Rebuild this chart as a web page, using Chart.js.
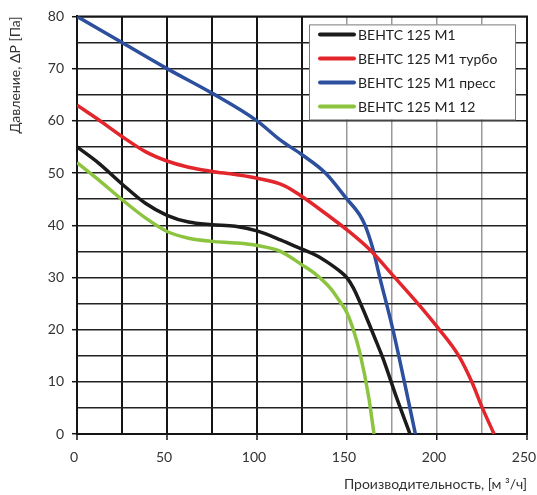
<!DOCTYPE html>
<html>
<head>
<meta charset="utf-8">
<script src="https://cdn.jsdelivr.net/npm/chart.js@4.4.1/dist/chart.umd.min.js"></script>
<style>
  html, body { margin: 0; padding: 0; background: #fff; overflow: hidden; }
  #wrap { width: 537px; height: 495px; overflow: hidden; }
  #wrap canvas { display: block; }
</style>
</head>
<body>
<div id="wrap"><canvas id="chart-fan"></canvas></div>
<script>
(function () {
    "use strict";

    // Series: [flow m3/h, pressure Pa]
    var SERIES_LABELS = ["ВЕНТС 125 М1", "ВЕНТС 125 М1 турбо", "ВЕНТС 125 М1 пресс", "ВЕНТС 125 М1 12"];
    var SERIES_COLORS = ["#1b1b1b", "#e2262b", "#2c4f9e", "#8cc43f"];

    var baseFlow = [0, 12, 25, 38, 50, 62, 75, 88, 100, 113, 125, 133, 140.5, 146, 150, 153.5, 159, 166.5, 170, 177.5, 185];
    var basePressure = [55, 51.9, 47.9, 44.2, 41.9, 40.6, 40.1, 39.8, 38.9, 37.2, 35.4, 34.2, 32.6, 31.2, 29.9, 28, 23.8, 17.5, 14.5, 7, 0];

    var turboFlow = [0, 12, 25, 38, 50, 62, 75, 88, 100, 115, 125, 139, 150, 163, 176, 190.6, 201.3, 212, 219.3, 225.2, 231.7];
    var turboPressure = [63, 60.2, 57, 54.1, 52.3, 51.1, 50.3, 49.7, 49, 47.6, 45.5, 42, 39.1, 35.2, 30.2, 24.5, 20, 15, 10, 5, 0];

    var pressFlow = [0, 25, 50, 75, 100, 113, 125, 138, 150, 157, 160, 164.6, 168, 175.5, 182, 188];
    var pressPressure = [80, 75, 70, 65.3, 60, 56.3, 53.5, 50, 45, 42, 40, 35.2, 30.3, 20, 9.8, 0];

    var m12Flow = [0, 12, 25, 38, 50, 62, 75, 88, 100, 113, 125, 133, 140.6, 146, 150, 153.5, 157.2, 162, 165];
    var m12Pressure = [52, 48.7, 44.9, 41.4, 38.8, 37.5, 36.9, 36.6, 36.1, 35, 32.4, 30.5, 28, 25.4, 23.2, 20, 15.5, 7.2, 0];

    var xTicks = [0, 50, 100, 150, 200, 250];
    var yTicks = [0, 10, 20, 30, 40, 50, 60, 70, 80];

    var FONT = "Lato, 'Open Sans', sans-serif";

    function toPoints(xs, ys) {
        return xs.map(function (x, i) { return { x: x, y: ys[i] }; });
    }

    function makeDataset(i, xs, ys) {
        return {
            label: SERIES_LABELS[i],
            data: toPoints(xs, ys),
            borderColor: SERIES_COLORS[i],
            backgroundColor: SERIES_COLORS[i],
            borderWidth: 3.5,
            pointRadius: 0,
            showLine: true,
            cubicInterpolationMode: "monotone",
            fill: false,
        };
    }

    // right and top edges of the plot frame
    var plotFrame = {
        id: "plotFrame",
        beforeDatasetsDraw: function (chart) {
            var ctx = chart.ctx;
            var a = chart.chartArea;
            ctx.save();
            ctx.strokeStyle = "#151515";
            ctx.lineWidth = 2;
            ctx.beginPath();
            ctx.moveTo(a.left, a.top);
            ctx.lineTo(a.right, a.top);
            ctx.lineTo(a.right, a.bottom);
            ctx.stroke();
            ctx.restore();
        },
    };

    var insideLegend = {
        id: "insideLegend",
        afterDatasetsDraw: function (chart) {
            var ctx = chart.ctx;
            var area = chart.chartArea;
            var left = area.left + 232, top = area.top + 8;
            var w = 206, h = 95;
            ctx.save();
            ctx.fillStyle = "#fff";
            ctx.fillRect(left, top, w, h);
            ctx.strokeStyle = "#7a7a7a";
            ctx.lineWidth = 1;
            ctx.strokeRect(left + 0.5, top + 0.5, w, h);
            ctx.font = "14px " + FONT;
            ctx.textBaseline = "middle";
            ctx.fillStyle = "#222";
            chart.data.datasets.forEach(function (ds, i) {
                var y = top + 10 + i * 24;
                ctx.strokeStyle = ds.borderColor;
                ctx.lineWidth = 4;
                ctx.lineCap = "round";
                ctx.beginPath();
                ctx.moveTo(left + 11, y);
                ctx.lineTo(left + 45, y);
                ctx.stroke();
                ctx.fillText(ds.label, left + 49, y + 1);
            });
            ctx.restore();
        },
    };

    function initChart() {
        var canvas = document.getElementById("chart-fan");
        if (!canvas || typeof Chart === "undefined") {
            return;
        }
        new Chart(canvas, {
            type: "scatter",
            data: {
                datasets: [
                    makeDataset(0, baseFlow, basePressure),
                    makeDataset(1, turboFlow, turboPressure),
                    makeDataset(2, pressFlow, pressPressure),
                    makeDataset(3, m12Flow, m12Pressure),
                ],
            },
            options: {
                responsive: true,
                maintainAspectRatio: false,
                animation: false,
                layout: { padding: { top: 16, right: 0, left: 7, bottom: 2 } },
                plugins: {
                    legend: { display: false },
                    tooltip: { enabled: false },
                },
                scales: {
                    x: {
                        type: "linear",
                        min: 0,
                        max: 250,
                        afterFit: function (scale) {
                            scale.height = 59;
                            scale.paddingRight = 10;
                        },
                        ticks: {
                            stepSize: 25,
                            padding: 9,
                            labelOffset: -3,
                            color: "#333",
                            font: { family: FONT, size: 14 },
                            callback: function (v) { return xTicks.indexOf(v) >= 0 ? String(v) : ""; },
                        },
                        grid: {
                            tickLength: 6,
                            color: function (c) {
                                var v = c.tick ? c.tick.value : 0;
                                return v > 125 && v < 250 ? "#9a9a9a" : "#151515";
                            },
                            lineWidth: function (c) {
                                var v = c.tick ? c.tick.value : 0;
                                return v > 125 && v < 250 ? 1.5 : 2;
                            },
                            tickColor: function (c) {
                                var v = c.tick ? c.tick.value : 0;
                                return xTicks.indexOf(v) >= 0 ? "#151515" : "rgba(0,0,0,0)";
                            },
                            tickWidth: 1.5,
                        },
                        border: { color: "#151515", width: 2 },
                        title: {
                            display: true,
                            text: "Производительность, [м ³/ч]",
                            align: "end",
                            color: "#333",
                            font: { family: FONT, size: 14 },
                            padding: { top: 4, bottom: 0 },
                        },
                    },
                    y: {
                        type: "linear",
                        min: 0,
                        max: 80,
                        afterFit: function (scale) { scale.width = 70; },
                        ticks: {
                            stepSize: 5,
                            padding: 8,
                            color: "#333",
                            font: { family: FONT, size: 14 },
                            callback: function (v) { return yTicks.indexOf(v) >= 0 ? String(v) : ""; },
                        },
                        grid: {
                            tickLength: 5,
                            color: "#222",
                            lineWidth: 1.4,
                            tickColor: function (c) {
                                var v = c.tick ? c.tick.value : 0;
                                return yTicks.indexOf(v) >= 0 ? "#151515" : "rgba(0,0,0,0)";
                            },
                            tickWidth: 1.5,
                        },
                        border: { color: "#151515", width: 2 },
                        title: {
                            display: true,
                            text: "Давление, ΔP [Па]",
                            align: "end",
                            color: "#333",
                            font: { family: FONT, size: 14 },
                            padding: { top: 0, bottom: 4 },
                        },
                    },
                },
            },
            plugins: [plotFrame, insideLegend],
        });
    }

    if (document.readyState === "loading") {
        document.addEventListener("DOMContentLoaded", initChart);
    } else {
        initChart();
    }
})();
</script>
</body>
</html>
